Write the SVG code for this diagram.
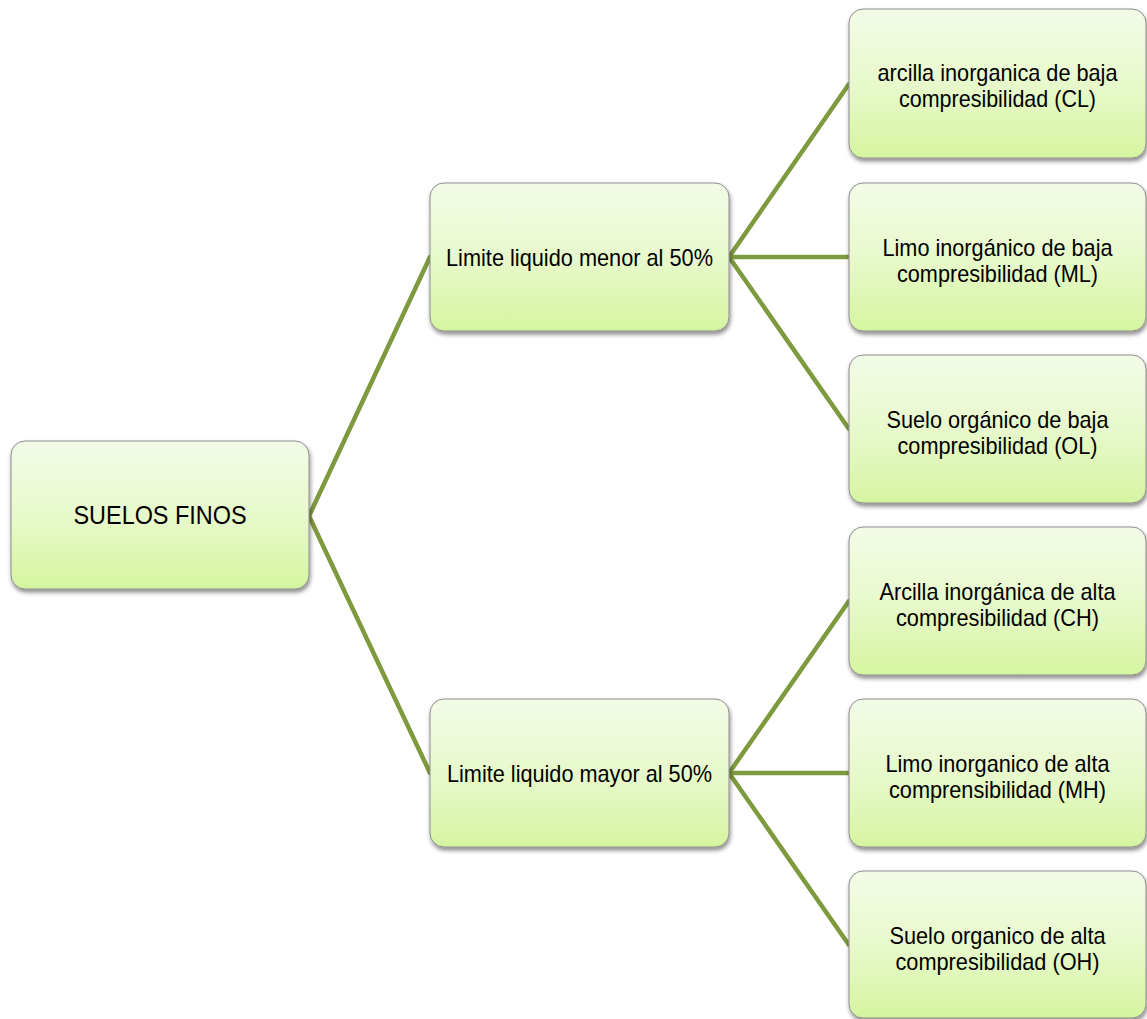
<svg xmlns="http://www.w3.org/2000/svg" width="1147" height="1019" viewBox="0 0 1147 1019">
<defs>
<linearGradient id="g" x1="0" y1="0" x2="0" y2="1">
<stop offset="0" stop-color="#F3FBE7"/>
<stop offset="0.5" stop-color="#E8F9CC"/>
<stop offset="1" stop-color="#D5F5A0"/>
</linearGradient>
<filter id="sh" x="-10%" y="-10%" width="120%" height="125%">
<feDropShadow dx="1" dy="3" stdDeviation="2" flood-color="#000" flood-opacity="0.45"/>
</filter>
</defs>
<style>
.box{fill:url(#g);stroke:#8C8C8C;stroke-width:1;filter:url(#sh)}
.t{font-family:"Liberation Sans",Arial,sans-serif;font-size:24px;fill:#000;text-anchor:middle}
.c{stroke:#7E9A3E;stroke-width:4.5;fill:none;stroke-linecap:round;stroke-linejoin:round}
</style>
<rect width="1147" height="1019" fill="#fff"/>
<g id="connectors">
<polyline class="c" points="430,257 309,516 430,773"/>
<polyline class="c" points="849,84 729,257 849,429"/>
<line class="c" x1="729" y1="257" x2="849" y2="257"/>
<polyline class="c" points="849,601 729,773 849,945"/>
<line class="c" x1="729" y1="773" x2="849" y2="773"/>
</g>
<g id="root">
<rect class="box" x="11" y="441" width="298" height="148" rx="14"/>
<text class="t" x="160" y="524" style="font-size:25px" textLength="173" lengthAdjust="spacingAndGlyphs">SUELOS FINOS</text>
</g>
<g id="mid1">
<rect class="box" x="430" y="183" width="299" height="148" rx="14"/>
<text class="t" x="579.5" y="266" textLength="267" lengthAdjust="spacingAndGlyphs">Limite liquido menor al 50%</text>
</g>
<g id="mid2">
<rect class="box" x="430" y="699" width="299" height="148" rx="14"/>
<text class="t" x="579.5" y="782" textLength="265" lengthAdjust="spacingAndGlyphs">Limite liquido mayor al 50%</text>
</g>
<g id="leaf1">
<rect class="box" x="849" y="9" width="297" height="149" rx="14"/>
<text class="t" x="997.5" y="81" textLength="240" lengthAdjust="spacingAndGlyphs">arcilla inorganica de baja</text>
<text class="t" x="997.5" y="107" textLength="197" lengthAdjust="spacingAndGlyphs">compresibilidad (CL)</text>
</g>
<g id="leaf2">
<rect class="box" x="849" y="183" width="297" height="148" rx="14"/>
<text class="t" x="997.5" y="256" textLength="230" lengthAdjust="spacingAndGlyphs">Limo inorgánico de baja</text>
<text class="t" x="997.5" y="282" textLength="201" lengthAdjust="spacingAndGlyphs">compresibilidad (ML)</text>
</g>
<g id="leaf3">
<rect class="box" x="849" y="355" width="297" height="148" rx="14"/>
<text class="t" x="997.5" y="428" textLength="222" lengthAdjust="spacingAndGlyphs">Suelo orgánico de baja</text>
<text class="t" x="997.5" y="454" textLength="200" lengthAdjust="spacingAndGlyphs">compresibilidad (OL)</text>
</g>
<g id="leaf4">
<rect class="box" x="849" y="527" width="297" height="148" rx="14"/>
<text class="t" x="997.5" y="600" textLength="236" lengthAdjust="spacingAndGlyphs">Arcilla inorgánica de alta</text>
<text class="t" x="997.5" y="626" textLength="203" lengthAdjust="spacingAndGlyphs">compresibilidad (CH)</text>
</g>
<g id="leaf5">
<rect class="box" x="849" y="699" width="297" height="148" rx="14"/>
<text class="t" x="997.5" y="772" textLength="224" lengthAdjust="spacingAndGlyphs">Limo inorganico de alta</text>
<text class="t" x="997.5" y="798" textLength="217" lengthAdjust="spacingAndGlyphs">comprensibilidad (MH)</text>
</g>
<g id="leaf6">
<rect class="box" x="849" y="871" width="297" height="147" rx="14"/>
<text class="t" x="997.5" y="944" textLength="216" lengthAdjust="spacingAndGlyphs">Suelo organico de alta</text>
<text class="t" x="997.5" y="970" textLength="204" lengthAdjust="spacingAndGlyphs">compresibilidad (OH)</text>
</g>
</svg>
